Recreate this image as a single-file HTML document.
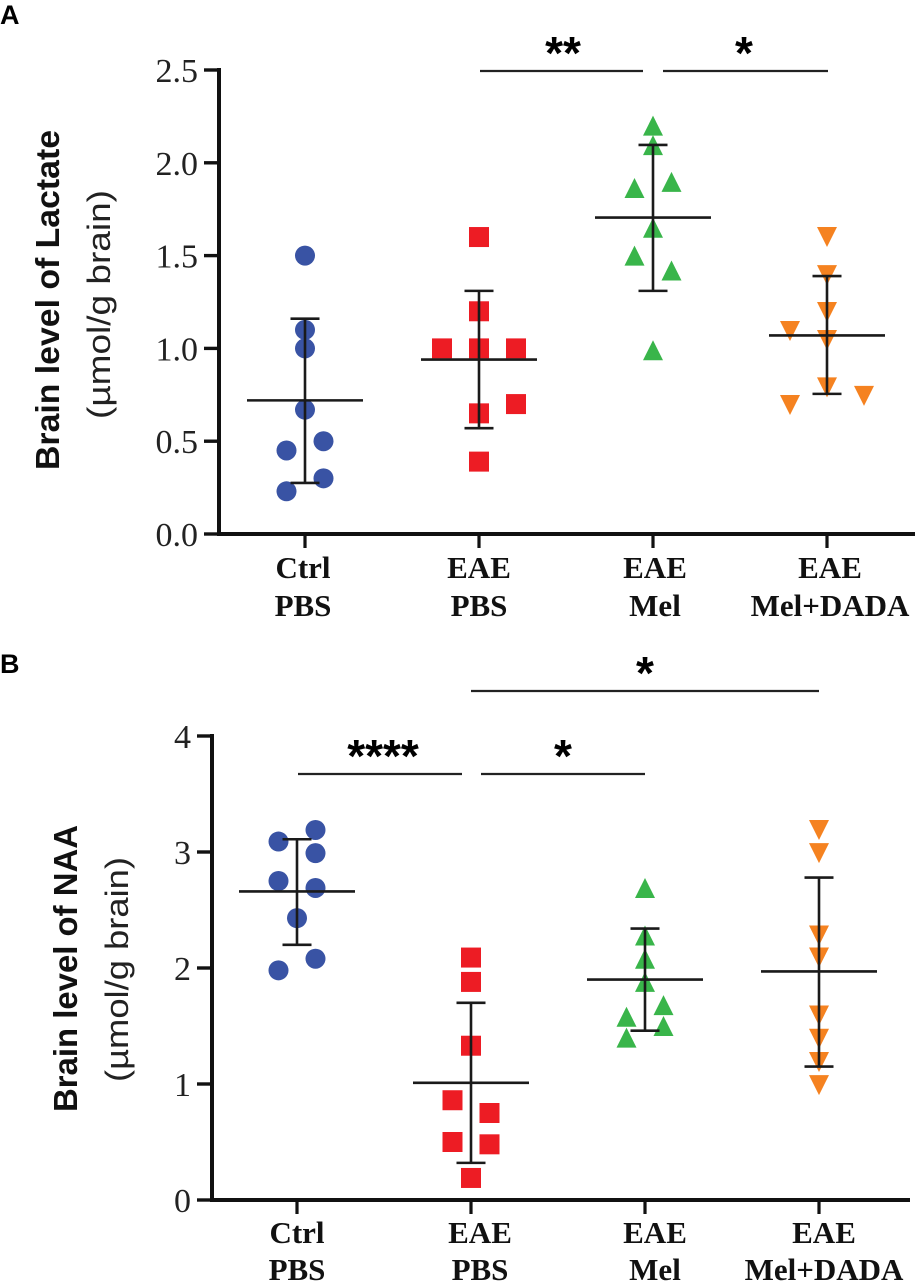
<!DOCTYPE html>
<html lang="en">
<head>
<meta charset="utf-8">
<title>Brain levels of Lactate and NAA</title>
<style>
html,body{margin:0;padding:0;background:#fff;width:917px;height:1282px;overflow:hidden}
svg{display:block}
.tick{font-family:"Liberation Serif",serif;fill:#222}
.cat{font-family:"Liberation Serif",serif;font-weight:700;font-size:31px;fill:#111}
.title{font-family:"Liberation Sans",sans-serif;font-weight:700;font-size:33px;fill:#111}
.unit{font-family:"Liberation Sans",sans-serif;font-size:32px;fill:#222}
.letter{font-family:"Liberation Sans",sans-serif;font-weight:700;font-size:27px;fill:#000}
.star{font-family:"Liberation Sans",sans-serif;font-weight:700;font-size:46px;fill:#000}
</style>
</head>
<body>
<svg id="chart" width="917" height="1282" viewBox="0 0 917 1282" xmlns="http://www.w3.org/2000/svg">
  <text class="letter" x="0" y="24">A</text>
  <text class="letter" x="0" y="673">B</text>
  <text class="title" transform="translate(59,470) rotate(-90)" textLength="340" lengthAdjust="spacingAndGlyphs">Brain level of  Lactate</text>
  <text class="unit" transform="translate(110,419) rotate(-90)" textLength="229" lengthAdjust="spacingAndGlyphs">(µmol/g brain)</text>
  <text class="title" transform="translate(77,1112) rotate(-90)" textLength="287" lengthAdjust="spacingAndGlyphs">Brain level of NAA</text>
  <text class="unit" transform="translate(128,1082) rotate(-90)" textLength="225" lengthAdjust="spacingAndGlyphs">(µmol/g brain)</text>
</svg>
<script>
const categoriesLine1 = ['Ctrl', 'EAE', 'EAE', 'EAE'];
const categoriesLine2 = ['PBS', 'PBS', 'Mel', 'Mel+DADA'];
const markerShapes = ['circle', 'square', 'triangle-up', 'triangle-down'];
const markerColors = ['#3953a4', '#ed1c24', '#39b54a', '#f58220'];

const lactateTicks = [0, 0.5, 1, 1.5, 2, 2.5];
const lactateCtrl = [1.5, 1.1, 1.0, 0.67, 0.45, 0.5, 0.3, 0.23];
const lactateCtrlLanes = [0, 0, 0, 0, -1, 1, 1, -1];
const lactateEaePbs = [1.6, 1.2, 1.0, 1.0, 1.0, 0.65, 0.7, 0.39];
const lactateEaePbsLanes = [0, 0, -2, 0, 2, 0, 2, 0];
const lactateEaeMel = [2.2, 2.095, 1.864, 1.897, 1.65, 1.5, 1.42, 0.99];
const lactateEaeMelLanes = [0, 0, -1, 1, 0, -1, 1, 0];
const lactateDada = [1.6, 1.395, 1.196, 1.094, 1.045, 0.79, 0.744, 0.695];
const lactateDadaLanes = [0, 0, 0, -2, 0, 0, 2, -2];
const lactateMeans = [0.72, 0.94, 1.705, 1.07];
const lactateUpper = [1.16, 1.31, 2.096, 1.39];
const lactateLower = [0.275, 0.57, 1.31, 0.755];

const naaTicks = [0, 1, 2, 3, 4];
const naaCtrl = [3.09, 3.19, 2.99, 2.75, 2.69, 2.43, 1.98, 2.08];
const naaCtrlLanes = [-1, 1, 1, -1, 1, 0, -1, 1];
const naaEaePbs = [2.09, 1.88, 1.33, 0.86, 0.75, 0.5, 0.48, 0.19];
const naaEaePbsLanes = [0, 0, 0, -1, 1, -1, 1, 0];
const naaEaeMel = [2.69, 2.28, 2.08, 1.88, 1.68, 1.58, 1.5, 1.4];
const naaEaeMelLanes = [0, 0, 0, 0, 1, -1, 1, -1];
const naaDada = [3.19, 2.99, 2.28, 2.09, 1.59, 1.39, 1.19, 0.99];
const naaDadaLanes = [0, 0, 0, 0, 0, 0, 0, 0];
const naaMeans = [2.66, 1.01, 1.9, 1.97];
const naaUpper = [3.11, 1.7, 2.34, 2.78];
const naaLower = [2.2, 0.32, 1.46, 1.15];

const svg = document.getElementById('chart');
const NS = 'http://www.w3.org/2000/svg';

function make(tag, attrs, parent) {
  const el = document.createElementNS(NS, tag);
  for (const k in attrs) el.setAttribute(k, attrs[k]);
  parent.appendChild(el);
  return el;
}

function drawPanel(cfg) {
  const g = make('g', {}, svg);
  
  
  const yMax = cfg.ticks[cfg.ticks.length - 1];
  const y = v => cfg.y0 - (v / yMax) * (cfg.y0 - cfg.yTop);
  const x = i => cfg.x0 + i * 174;
  const laneWidth = 18.5;

  // axes
  const yAxis = make('line', {x1: cfg.axisX, x2: cfg.axisX, y1: y(yMax) - 2, y2: cfg.y0 + 2, stroke: '#111', 'stroke-width': 4}, g);
  
  
  const xAxis = make('line', {x1: cfg.axisX, x2: cfg.axisEnd, y1: cfg.y0, y2: cfg.y0, stroke: '#111', 'stroke-width': 4}, g);
  
  

  cfg.ticks.forEach(t => {
    const tick = make('line', {x1: cfg.axisX - 15, x2: cfg.axisX, y1: y(t), y2: y(t), stroke: '#111', 'stroke-width': 3.4}, g);
    
    
    const label = make('text', {class: 'tick', x: cfg.axisX - 21, y: y(t) + 12, 'text-anchor': 'end', 'font-size': 34}, g);
    
    
    label.textContent = cfg.tickFormat(t);
  });

  categoriesLine1.forEach((c, i) => {
    const xt = make('line', {x1: x(i), x2: x(i), y1: cfg.y0, y2: cfg.y0 + 14, stroke: '#111', 'stroke-width': 3.2}, g);
    
    
    const l1 = make('text', {class: 'cat', x: x(i) + cfg.catShift[i], y: cfg.catY1, 'text-anchor': 'middle'}, g);
    
    
    l1.textContent = c;
    const l2 = make('text', {class: 'cat', x: x(i) + cfg.catShift[i], y: cfg.catY2, 'text-anchor': 'middle'}, g);
    
    
    l2.textContent = categoriesLine2[i];
  });

  // points
  cfg.series.forEach((values, i) => {
    const lanes = cfg.lanes[i];
    const shape = markerShapes[i];
    const color = markerColors[i];
    values.forEach((v, j) => {
      const cx = x(i) + lanes[j] * laneWidth;
      const cy = y(v);
      let m;
      if (shape === 'circle') {
        m = make('circle', {cx: cx, cy: cy, r: 10, fill: color}, g);
      } else if (shape === 'square') {
        m = make('rect', {x: cx - 10, y: cy - 10, width: 20, height: 20, fill: color}, g);
      } else if (shape === 'triangle-up') {
        m = make('polygon', {points: [cx, cy - 10, cx + 10, cy + 10, cx - 10, cy + 10].join(','), fill: color}, g);
      } else {
        m = make('polygon', {points: [cx - 10, cy - 10, cx + 10, cy - 10, cx, cy + 10].join(','), fill: color}, g);
      }
      
      
    });
  });

  // mean and SD bars
  cfg.means.forEach((mean, i) => {
    const attrs = {stroke: '#1a1a1a', 'stroke-width': 2.6};
    const ml = make('line', Object.assign({x1: x(i) - 58, x2: x(i) + 58, y1: y(mean), y2: y(mean)}, attrs), g);
    
    
    const el = make('line', Object.assign({x1: x(i), x2: x(i), y1: y(cfg.upper[i]), y2: y(cfg.lower[i])}, attrs), g);
    
    
    const cu = make('line', Object.assign({x1: x(i) - 14.5, x2: x(i) + 14.5, y1: y(cfg.upper[i]), y2: y(cfg.upper[i])}, attrs), g);
    
    
    const cl = make('line', Object.assign({x1: x(i) - 14.5, x2: x(i) + 14.5, y1: y(cfg.lower[i]), y2: y(cfg.lower[i])}, attrs), g);
    
    
  });

  // significance brackets
  cfg.sig.forEach(s => {
    const line = make('line', {x1: s[0], x2: s[1], y1: s[2], y2: s[2], stroke: '#222', 'stroke-width': 2.2}, g);
    
    
    const star = make('text', {class: 'star', x: s[4], y: s[2] - 2, 'text-anchor': 'middle'}, g);
    
    
    star.textContent = s[3];
  });
}

drawPanel({
  name: 'panel-a-lactate-chart',
  ticks: lactateTicks, tickFormat: t => t.toFixed(1),
  y0: 534, yTop: 70, axisX: 219, axisEnd: 915, x0: 305,
  catShift: [-2, 0, 2, 3], catY1: 578, catY2: 616,
  series: [lactateCtrl, lactateEaePbs, lactateEaeMel, lactateDada],
  lanes: [lactateCtrlLanes, lactateEaePbsLanes, lactateEaeMelLanes, lactateDadaLanes],
  means: lactateMeans, upper: lactateUpper, lower: lactateLower,
  sig: [[480, 643, 71, '**', 563], [663, 828, 71, '*', 744]]
});

drawPanel({
  name: 'panel-b-naa-chart',
  ticks: naaTicks, tickFormat: t => String(t),
  y0: 1200, yTop: 736, axisX: 212, axisEnd: 910, x0: 297,
  catShift: [0, 9, 10, 5], catY1: 1243, catY2: 1280,
  series: [naaCtrl, naaEaePbs, naaEaeMel, naaDada],
  lanes: [naaCtrlLanes, naaEaePbsLanes, naaEaeMelLanes, naaDadaLanes],
  means: naaMeans, upper: naaUpper, lower: naaLower,
  sig: [[471, 819, 691, '*', 645], [298, 462, 774, '****', 383], [481, 645, 774, '*', 563]]
});
</script>
</body>
</html>
